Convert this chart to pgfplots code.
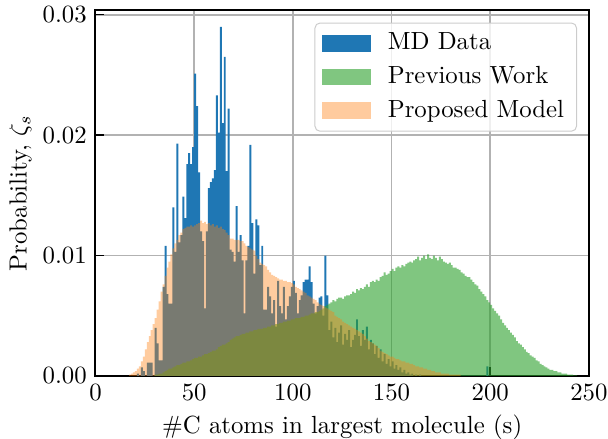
\documentclass[border=0pt]{standalone}
\usepackage{pgfplots}
\pgfplotsset{compat=1.18}
\definecolor{mplblue}{HTML}{1F77B4}
\definecolor{mplgreen}{HTML}{2CA02C}
\definecolor{mplorange}{HTML}{FF7F0E}
\pgfplotsset{
  layers/gridbelow/.define layer set={
    axis background,axis grid,main,axis ticks,axis lines,axis tick labels,axis descriptions,axis foreground
  }{},
  set layers=gridbelow,
}
\begin{document}
\begin{tikzpicture}
\begin{axis}[
  name=ax,
  scale only axis,
  width=199pt, height=147.6pt,
  xmin=0, xmax=250, ymin=0, ymax=304,
  xtick={0,50,100,150,200,250},
  ytick={0,100,200,300},
  yticklabels={0.00,0.01,0.02,0.03},
  tick align=inside, tick pos=left,
  major tick length=3.5pt,
  tick style={black, line width=0.6pt},
  axis line style={line width=0.8pt},
  grid=major,
  grid style={color=black!30, line width=0.65pt},
  xlabel={\#C atoms in largest molecule (s)},
  ylabel={Probability, $\zeta_s$},
  ylabel shift=-2.5pt,
  xlabel shift=-1pt,
  legend cell align=left,
  legend image code/.code={\fill[#1, sharp corners] (0pt,-3.4pt) rectangle (19.4pt,3.4pt);},
  legend style={at={(1,1)}, anchor=north east, xshift=-4.8pt, yshift=-5.1pt,
    draw=black!20, fill=white, fill opacity=0.8, text opacity=1, draw opacity=1,
    rounded corners=2pt, inner xsep=3pt, inner ysep=2pt, row sep=1.2pt,
    /tikz/every odd column/.append style={column sep=5pt}},
]
% MD Data (values in units of 1e-4)
\addplot[const plot mark left, fill=mplblue, fill opacity=1, draw=none] coordinates {
(21,2) (22,0) (23,7) (24,4) (25,0) (26,11) (27,11) (28,11) (29,0) (30,40)
(31,27) (32,13) (33,13) (34,74) (35,108) (36,68) (37,60) (38,60) (39,140) (40,103)
(41,193) (42,111) (43,117) (44,149) (45,131) (46,176) (47,185) (48,176) (49,190) (50,251)
(51,224) (52,169) (53,120) (54,112) (55,56) (56,120) (57,156) (58,161) (59,164) (60,171)
(61,233) (62,202) (63,290) (64,210) (65,265) (66,170) (67,222) (68,105) (69,103) (70,95)
(71,141) (72,103) (73,117) (74,96) (75,52) (76,96) (77,108) (78,192) (79,127) (80,85)
(81,130) (82,125) (83,92) (84,108) (85,55) (86,55) (87,74) (88,66) (89,52) (90,63)
(91,41) (92,79) (93,58) (94,52) (95,74) (96,47) (97,58) (98,66) (99,74) (100,79)
(101,69) (102,52) (103,63) (104,67) (105,78) (106,80) (107,80) (108,91) (109,78) (110,60)
(111,52) (112,58) (113,65) (114,66) (115,50) (116,100) (117,67) (118,38) (119,45) (120,32)
(121,40) (122,28) (123,36) (124,42) (125,26) (126,35) (127,30) (128,38) (129,24) (130,30)
(131,34) (132,47) (133,33) (134,25) (135,38) (136,30) (137,41) (138,22) (139,30) (140,27)
(141,18) (142,25) (143,15) (144,22) (145,12) (146,18) (147,10) (148,14) (149,8) (150,12)
(151,6) (152,9) (153,5) (154,7) (155,3) (156,5) (157,2) (158,3) (159,1) (160,2)
(161,0) (162,1) (163,0) (164,1) (165,0) (198,8) (199,0)
} \closedcycle;
\addlegendentry{MD Data}
% Previous Work
\addplot[const plot mark left, fill=mplgreen, fill opacity=0.6, draw=none] coordinates {
(30,1) (31,1) (32,2) (33,2) (34,3) (35,4) (36,5) (37,6) (38,6) (39,7)
(40,8) (41,9) (42,9) (43,10) (44,11) (45,11) (46,12) (47,12) (48,13) (49,14)
(50,15) (51,15) (52,16) (53,16) (54,17) (55,18) (56,18) (57,19) (58,20) (59,21)
(60,21) (61,22) (62,24) (63,25) (64,26) (65,26) (66,27) (67,28) (68,30) (69,31)
(70,32) (71,33) (72,33) (73,34) (74,35) (75,35) (76,36) (77,36) (78,37) (79,37)
(80,38) (81,38) (82,39) (83,39) (84,39) (85,40) (86,40) (87,41) (88,41) (89,42)
(90,42) (91,43) (92,43) (93,44) (94,44) (95,45) (96,45) (97,46) (98,46) (99,47)
(100,47) (101,48) (102,48) (103,48) (104,49) (105,49) (106,50) (107,50) (108,51) (109,52)
(110,52) (111,53) (112,53) (113,54) (114,55) (115,56) (116,58) (117,59) (118,60) (119,61)
(120,63) (121,62) (122,64) (123,65) (124,65) (125,64) (126,66) (127,67) (128,67) (129,68)
(130,70) (131,69) (132,72) (133,71) (134,73) (135,72) (136,74) (137,76) (138,74) (139,78)
(140,79) (141,78) (142,80) (143,79) (144,82) (145,83) (146,86) (147,84) (148,85) (149,87)
(150,89) (151,87) (152,90) (153,91) (154,90) (155,92) (156,91) (157,93) (158,94) (159,95)
(160,94) (161,96) (162,97) (163,99) (164,96) (165,98) (166,100) (167,97) (168,101) (169,98)
(170,97) (171,100) (172,98) (173,96) (174,99) (175,97) (176,95) (177,94) (178,93) (179,94)
(180,92) (181,90) (182,90) (183,89) (184,88) (185,86) (186,85) (187,83) (188,82) (189,82)
(190,80) (191,78) (192,76) (193,75) (194,72) (195,70) (196,68) (197,66) (198,63) (199,61)
(200,59) (201,56) (202,54) (203,52) (204,50) (205,47) (206,44) (207,42) (208,40) (209,38)
(210,36) (211,34) (212,32) (213,29) (214,27) (215,26) (216,24) (217,22) (218,20) (219,19)
(220,17) (221,16) (222,15) (223,13) (224,12) (225,10) (226,9) (227,8) (228,7) (229,6)
(230,5) (231,5) (232,4) (233,4) (234,3) (235,3) (236,2) (237,2) (238,2) (239,1)
(240,1) (241,1) (242,0.5) (243,0.5) (244,0)
} \closedcycle;
\addlegendentry{Previous Work}
% Proposed Model
\addplot[const plot mark left, fill=mplorange, fill opacity=0.4, draw=none] coordinates {
(17,1) (18,2) (19,3) (20,4) (21,6) (22,8) (23,12) (24,16) (25,22) (26,28)
(27,33) (28,38) (29,43) (30,48) (31,55) (32,62) (33,70) (34,76) (35,83) (36,90)
(37,95) (38,101) (39,106) (40,110) (41,113) (42,117) (43,119) (44,122) (45,123) (46,124)
(47,124) (48,125) (49,124) (50,125) (51,126) (52,127) (53,129) (54,127) (55,128) (56,126)
(57,127) (58,125) (59,126) (60,124) (61,125) (62,123) (63,124) (64,122) (65,121) (66,119)
(67,117) (68,114) (69,114) (70,113) (71,113) (72,113) (73,112) (74,112) (75,110) (76,108)
(77,107) (78,106) (79,105) (80,104) (81,100) (82,97) (83,94) (84,93) (85,92) (86,91)
(87,88) (88,86) (89,84) (90,83) (91,82) (92,81) (93,80) (94,80) (95,79) (96,79)
(97,78) (98,78) (99,77) (100,76) (101,74) (102,73) (103,72) (104,71) (105,70) (106,69)
(107,67) (108,66) (109,65) (110,64) (111,63) (112,61) (113,60) (114,59) (115,58) (116,57)
(117,56) (118,55) (119,54) (120,53) (121,50) (122,49) (123,48) (124,47) (125,45) (126,44)
(127,43) (128,42) (129,41) (130,40) (131,39) (132,38) (133,37) (134,36) (135,35) (136,33)
(137,31) (138,29) (139,28) (140,27) (141,26) (142,25) (143,23) (144,21) (145,20) (146,19)
(147,18) (148,17) (149,16) (150,16) (151,15) (152,14) (153,14) (154,13) (155,12) (156,12)
(157,11) (158,11) (159,10) (160,10) (161,9) (162,8) (163,8) (164,7) (165,7) (166,6)
(167,6) (168,5) (169,5) (170,4) (171,4) (172,3) (173,3) (174,3) (175,2) (176,2)
(177,2) (178,2) (179,1) (180,1) (181,1) (182,1) (183,1) (184,1) (185,0)
} \closedcycle;
\addlegendentry{Proposed Model}
\end{axis}
\pgfresetboundingbox
\path[use as bounding box] ([xshift=-38.5pt,yshift=-25.4pt]ax.south west) rectangle ([xshift=7.7pt,yshift=4pt]ax.north east);
\end{tikzpicture}
\end{document}
